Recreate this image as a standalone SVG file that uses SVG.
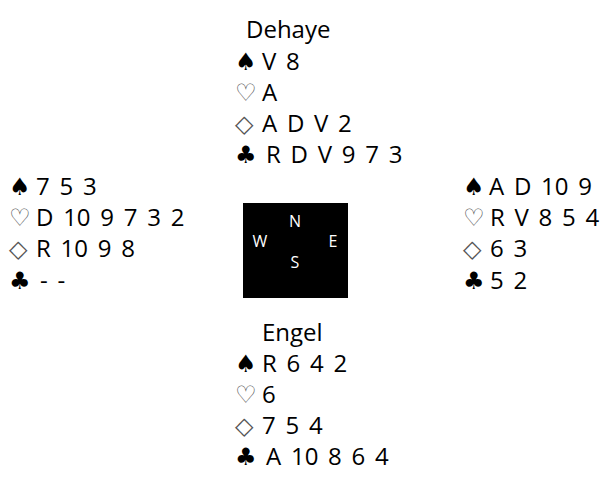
<svg xmlns="http://www.w3.org/2000/svg" width="605" height="479" viewBox="0 0 605 479">
<style>
text{font-family:"Open Sans","Liberation Sans",sans-serif;font-size:24px;fill:#000;word-spacing:3.5px}
.b{font-family:"DejaVu Sans",sans-serif;font-size:24px;fill:#000}
.r{font-family:"DejaVu Sans",sans-serif;font-size:24px;fill:#555}
.c{font-size:16px;fill:#fff;text-anchor:middle}
</style>
<rect width="605" height="479" fill="#fff"/>
<g id="north">
<text x="246" y="38">Dehaye</text>
<text class="b" x="235" y="70">♠</text><text x="262" y="70">V 8</text>
<text class="r" x="235" y="101">♡</text><text x="262" y="101">A</text>
<text class="r" x="235" y="132">◇</text><text x="262" y="132">A D V 2</text>
<text class="b" x="235" y="163">♣</text><text x="266" y="163">R D V 9 7 3</text>
</g>
<g id="west">
<text class="b" x="9" y="195">♠</text><text x="36" y="195">7 5 3</text>
<text class="r" x="9" y="226">♡</text><text x="36" y="226">D 10 9 7 3 2</text>
<text class="r" x="9" y="257">◇</text><text x="36" y="257">R 10 9 8</text>
<text class="b" x="9" y="289">♣</text><text x="40" y="289">- -</text>
</g>
<g id="east">
<text class="b" x="463" y="195">♠</text><text x="489" y="195">A D 10 9</text>
<text class="r" x="463" y="226">♡</text><text x="490" y="226">R V 8 5 4</text>
<text class="r" x="463" y="257">◇</text><text x="490" y="257">6 3</text>
<text class="b" x="463" y="289">♣</text><text x="490" y="289">5 2</text>
</g>
<g id="compass">
<rect x="243" y="203" width="105" height="95" fill="#000"/>
<text class="c" x="295" y="227">N</text>
<text class="c" x="260" y="247">W</text>
<text class="c" x="333" y="247">E</text>
<text class="c" x="295" y="268">S</text>
</g>
<g id="south">
<text x="262" y="341">Engel</text>
<text class="b" x="235" y="372">♠</text><text x="262" y="372">R 6 4 2</text>
<text class="r" x="235" y="403">♡</text><text x="262" y="403">6</text>
<text class="r" x="235" y="434">◇</text><text x="262" y="434">7 5 4</text>
<text class="b" x="235" y="465">♣</text><text x="266" y="465">A 10 8 6 4</text>
</g>
<g id="connectors"/>
</svg>
